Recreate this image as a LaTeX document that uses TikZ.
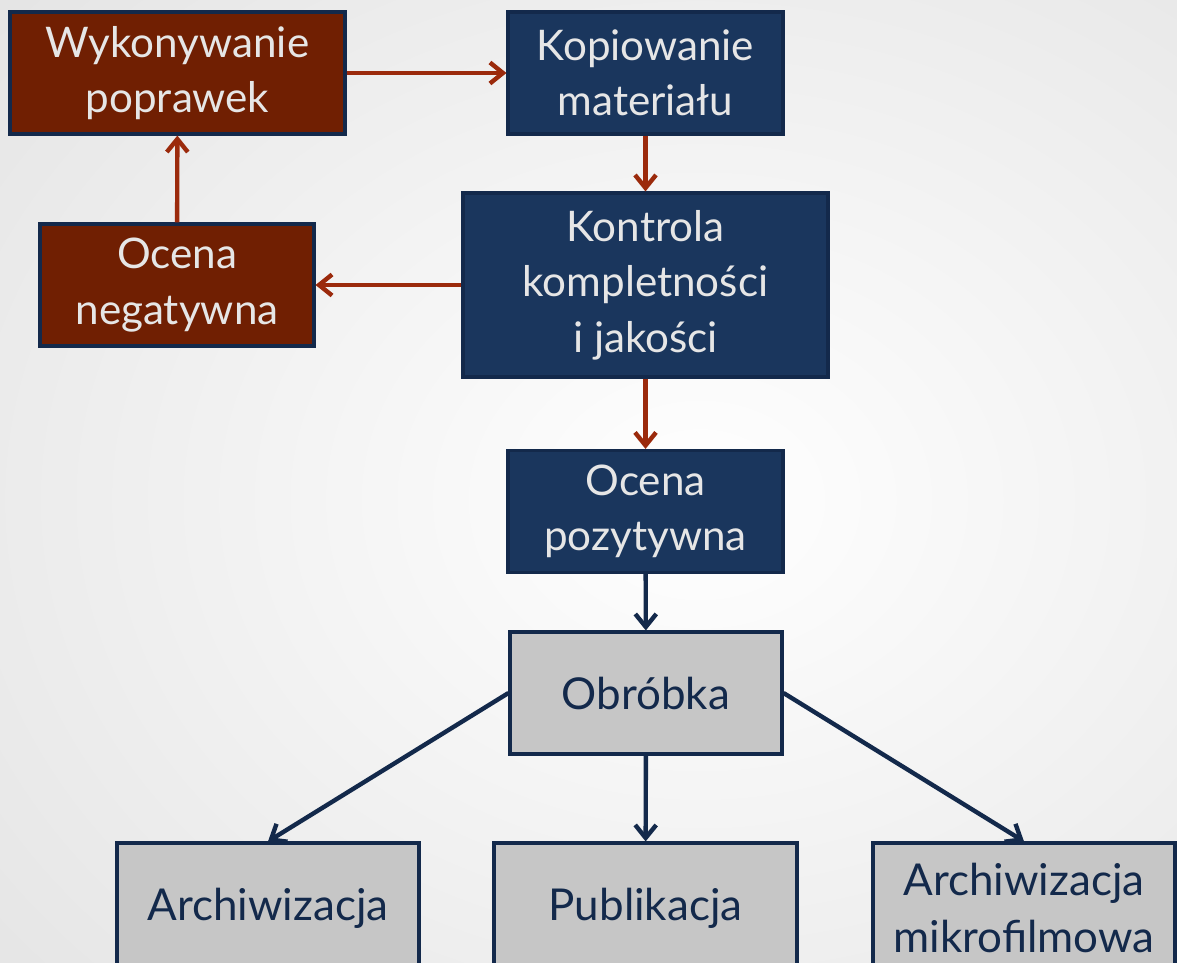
\documentclass[tikz,border=0pt]{standalone}
\usepackage{fontspec}
\setmainfont{Lato}
\usetikzlibrary{arrows.meta}
\definecolor{navy}{HTML}{1A365D}
\definecolor{edgenavy}{HTML}{13294B}
\definecolor{brick}{HTML}{701F02}
\definecolor{rust}{HTML}{9B2A0C}
\definecolor{boxgray}{HTML}{C6C6C6}
\definecolor{lighttext}{HTML}{E6E6E6}
\begin{document}
\begin{tikzpicture}[x=0.02cm,y=-0.02cm,
  box/.style={draw=edgenavy,line width=1.8pt,align=center,inner sep=0pt,
    minimum height=2.44cm,font=\fontsize{24}{31.5}\selectfont},
  redbox/.style={box,fill=brick,text=lighttext},
  bluebox/.style={box,fill=navy,text=lighttext},
  graybox/.style={box,fill=boxgray,text=edgenavy,font=\fontsize{25}{32.5}\selectfont},
  redarr/.style={draw=rust,line width=2.5pt,-{Straight Barb[length=0.26cm,width=0.42cm]}},
  bluearr/.style={draw=edgenavy,line width=2.5pt,-{Straight Barb[length=0.26cm,width=0.42cm]}}]
\useasboundingbox (0,0) rectangle (1177,963);
\shade[inner color=white,outer color=black!11] (-300,-300) rectangle (1700,1300);
\clip (0,0) rectangle (1177,963);

% upper loop
\node[redbox,minimum width=6.7cm] (wyk) at (177.5,73) {Wykonywanie\\poprawek};
\node[bluebox,minimum width=5.5cm] (kop) at (645.5,73) {Kopiowanie\\materiału};
\node[redbox,minimum width=5.48cm] (neg) at (177,285) {Ocena\\negatywna};
\node[bluebox,minimum width=7.3cm,minimum height=3.68cm] (kon) at (645.5,285) {Kontrola\\kompletności\\i jakości};
\node[bluebox,minimum width=5.5cm] (poz) at (645.5,511.5) {Ocena\\pozytywna};

% processing
\node[graybox,minimum width=5.44cm] (obr) at (646,693) {Obróbka};
\node[graybox,minimum width=6.04cm,minimum height=2.6cm] (arch) at (268,908) {Archiwizacja};
\node[graybox,minimum width=6.06cm,minimum height=2.6cm] (pub) at (645.5,908) {Publikacja};
\node[graybox,minimum width=6.04cm,minimum height=2.6cm] (mik) at (1024,908) {Archiwizacja\\mikrofilmowa};

\draw[redarr] (wyk) -- (kop);
\draw[redarr] (kop) -- (kon);
\draw[redarr] (kon) -- (neg);
\draw[redarr] (neg) -- (wyk);
\draw[redarr] (kon) -- (poz);
\draw[bluearr] (poz) -- (obr);
\draw[bluearr] (obr.west) -- (arch.north);
\draw[bluearr] (obr) -- (pub);
\draw[bluearr] (obr.east) -- (mik.north);
\end{tikzpicture}
\end{document}
